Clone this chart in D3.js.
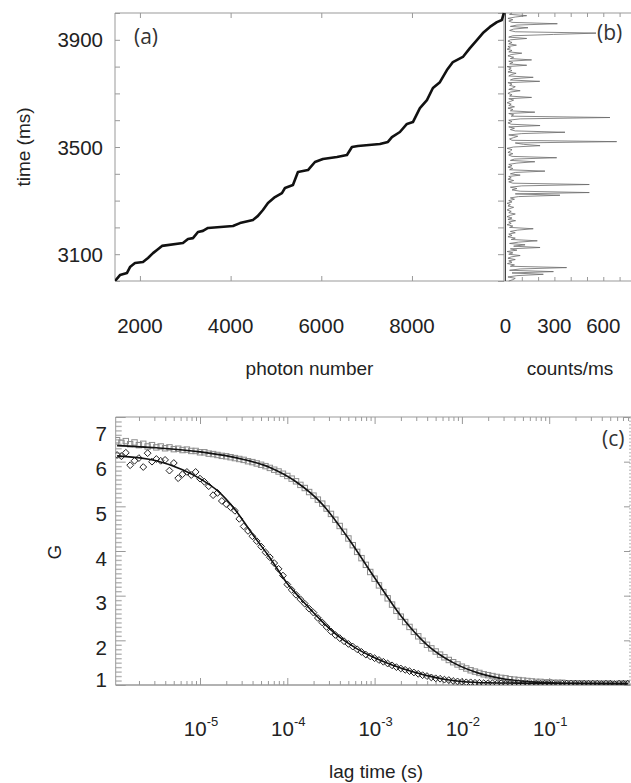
<!DOCTYPE html>
<html>
<head>
<meta charset="utf-8">
<title>photon trace and correlation</title>
<script src="https://d3js.org/d3.v7.min.js"></script>
<style>
  body { margin: 0; background: #fff; }
  svg text { font-family: "Liberation Sans", Arial, sans-serif; fill: #222; }
  svg text.tag { font-family: "Open Sans", sans-serif; fill: #333; }
</style>
</head>
<body>
<script>
var width = 631, height = 783

// (a) cumulative photon number against arrival time
var photonNum = [1450,1560,1715,1781,1891,2067,2178,2288,2376,2486,
  2949,3060,3170,3280,3390,3501,4052,4206,4493,4603,
  4713,4824,4978,5132,5199,5375,5485,5706,5860,6036,
  6345,6566,6676,6808,7293,7470,7558,7734,7889,8021,
  8175,8330,8462,8616,8771,8903,9123,9278,9432,9564,
  9719,9873,9983,10027]
var photonTime = [3000,3022,3030,3052,3067,3071,3086,3104,3116,3131,
  3142,3157,3160,3183,3187,3198,3205,3216,3228,3243,
  3265,3291,3313,3328,3347,3358,3407,3414,3444,3455,
  3463,3470,3500,3504,3511,3519,3537,3556,3586,3593,
  3645,3675,3720,3742,3787,3817,3836,3869,3899,3925,
  3948,3966,3974,4000]
var photonLabels = [2000,4000,6000,8000]
var timeLabels = [3100,3500,3900]

// (b) count rate, 5 ms bins starting at 3000 ms
var binStart = 3000
var binMs = 5
var counts = [20,45,60,15,70,232,40,294,25,90,
  375,30,55,12,40,20,60,15,35,90,
  20,45,10,70,30,212,50,120,25,80,
  195,35,60,15,40,20,60,30,75,170,
  25,45,10,35,20,62,15,40,10,30,
  60,20,35,10,25,50,15,30,10,40,
  20,55,30,80,334,60,514,90,40,70,
  30,100,514,45,20,50,15,35,20,90,
  30,60,242,25,45,15,40,20,70,180,
  30,55,314,40,20,45,15,30,40,10,
  50,212,110,60,682,40,25,50,75,20,
  100,365,60,30,55,20,212,35,15,40,
  20,90,641,35,50,20,180,30,45,15,
  55,20,35,10,30,50,20,160,25,40,
  15,30,90,20,45,60,25,40,15,210,
  30,50,170,20,35,65,15,40,20,35,
  10,130,25,45,20,160,30,50,15,35,
  100,20,40,10,30,15,67,20,40,15,
  30,130,20,45,294,563,60,25,50,138,
  30,70,318,40,20,45,15,60,130,25,
  40]
var countLabels = [0,300,600]

// (c) correlation curves, lag given as log10(seconds)
var lagExp = [-5.95,-5.90,-5.85,-5.80,-5.75,-5.70,-5.65,-5.60,-5.55,-5.50,
  -5.45,-5.40,-5.35,-5.30,-5.25,-5.20,-5.15,-5.10,-5.05,-5.00,
  -4.95,-4.90,-4.85,-4.80,-4.75,-4.70,-4.65,-4.60,-4.55,-4.50,
  -4.45,-4.40,-4.35,-4.30,-4.25,-4.20,-4.15,-4.10,-4.05,-4.00,
  -3.95,-3.90,-3.85,-3.80,-3.75,-3.70,-3.65,-3.60,-3.55,-3.50,
  -3.45,-3.40,-3.35,-3.30,-3.25,-3.20,-3.15,-3.10,-3.05,-3.00,
  -2.95,-2.90,-2.85,-2.80,-2.75,-2.70,-2.65,-2.60,-2.55,-2.50,
  -2.45,-2.40,-2.35,-2.30,-2.25,-2.20,-2.15,-2.10,-2.05,-2.00,
  -1.95,-1.90,-1.85,-1.80,-1.75,-1.70,-1.65,-1.60,-1.55,-1.50,
  -1.45,-1.40,-1.35,-1.30,-1.25,-1.20,-1.15,-1.10,-1.05,-1.00,
  -0.95,-0.90,-0.85,-0.80,-0.75,-0.70,-0.65,-0.60,-0.55,-0.50,
  -0.45,-0.40,-0.35,-0.30,-0.25,-0.20,-0.15,-0.10]
var gSquares = [6.48,6.42,6.46,6.39,6.43,6.37,6.40,6.34,6.37,6.32,
  6.34,6.30,6.32,6.28,6.29,6.26,6.27,6.24,6.24,6.21,
  6.21,6.18,6.17,6.15,6.13,6.12,6.10,6.08,6.06,6.04,
  6.01,5.99,5.96,5.93,5.90,5.86,5.82,5.78,5.73,5.68,
  5.62,5.56,5.48,5.41,5.32,5.24,5.15,5.06,4.95,4.83,
  4.70,4.56,4.43,4.28,4.13,3.98,3.84,3.69,3.53,3.38,
  3.23,3.08,2.94,2.80,2.66,2.53,2.41,2.30,2.19,2.09,
  1.99,1.90,1.82,1.75,1.68,1.62,1.56,1.51,1.46,1.41,
  1.37,1.33,1.30,1.27,1.24,1.22,1.20,1.18,1.16,1.15,
  1.13,1.12,1.11,1.10,1.09,1.08,1.07,1.07,1.06,1.06,
  1.05,1.05,1.05,1.04,1.04,1.04,1.04,1.03,1.03,1.03,
  1.03,1.03,1.03,1.03,1.02,1.03,1.03,1.03]
var gDiamonds = [6.15,6.12,6.20,5.92,6.02,6.08,5.88,6.19,6.00,6.06,
  6.02,6.04,5.80,5.97,5.63,5.72,5.77,5.70,5.77,5.62,
  5.55,5.45,5.25,5.30,5.12,5.05,4.98,4.90,4.72,4.55,
  4.45,4.33,4.22,4.10,3.97,3.86,3.73,3.60,3.45,3.25,
  3.13,3.02,2.92,2.82,2.71,2.62,2.50,2.40,2.30,2.20,
  2.12,2.05,1.98,1.92,1.86,1.80,1.74,1.68,1.64,1.60,
  1.56,1.52,1.48,1.44,1.40,1.37,1.34,1.31,1.28,1.25,
  1.22,1.20,1.17,1.15,1.14,1.12,1.11,1.09,1.08,1.07,
  1.06,1.06,1.05,1.05,1.04,1.04,1.04,1.03,1.04,1.03,
  1.03,1.03,1.04,1.03,1.03,1.02,1.03,1.03,1.03,1.03,
  1.03,1.02,1.03,1.03,1.03,1.03,1.02,1.03,1.03,1.03,
  1.03,1.02,1.03,1.03,1.02,1.03,1.03,1.03]
var fitSqExp = [-5.95,-5.5,-5.0,-4.5,-4.2,-3.9,-3.6,-3.3,-3.0,-2.7,-2.4,-2.1,-1.8,-1.5,-1.2,-0.8,-0.1]
var fitSq = [6.36,6.31,6.22,6.05,5.87,5.55,5.05,4.28,3.40,2.55,1.90,1.50,1.26,1.13,1.07,1.04,1.03]
var fitDiExp = [-5.95,-5.5,-5.2,-5.0,-4.8,-4.6,-4.4,-4.2,-4.0,-3.8,-3.6,-3.4,-3.2,-3.0,-2.8,-2.6,-2.4,-2.2,-2.0,-1.7,-1.2,-0.1]
var fitDi = [6.13,6.02,5.82,5.62,5.35,4.93,4.38,3.85,3.27,2.83,2.42,2.07,1.81,1.61,1.45,1.32,1.21,1.13,1.08,1.05,1.04,1.03]
var lagLabels = [-5,-4,-3,-2,-1]
var gLabels = [1,2,3,4,5,6,7]

var axisColor = "#999"

var svg = d3.select("body").append("svg").attr("width", width).attr("height", height)

function ticksOnly(g, axis) {
    g.call(axis)
    g.select(".domain").remove()
    g.selectAll("text").remove()
    g.selectAll("line").attr("stroke", axisColor).attr("stroke-width", 1)
}

// ---------- panel (a) ----------
var aL = 115, aR = 504, aT = 13, aB = 281
var xA = d3.scaleLinear().domain([1450, 10030]).range([aL, aR])
var yT = d3.scaleLinear().domain([3000, 4000]).range([aB, aT])

svg.append("clipPath").attr("id", "clipA").append("rect")
    .attr("x", aL).attr("y", aT - 2).attr("width", aR - aL + 2).attr("height", aB - aT + 2)

ticksOnly(svg.append("g").attr("transform", "translate(0," + aB + ")"),
    d3.axisBottom(xA).tickValues(photonLabels).tickSizeInner(-5).tickSizeOuter(0))
ticksOnly(svg.append("g").attr("transform", "translate(0," + aT + ")"),
    d3.axisTop(xA).tickValues(photonLabels).tickSizeInner(-5).tickSizeOuter(0))
ticksOnly(svg.append("g").attr("transform", "translate(" + aL + ",0)"),
    d3.axisLeft(yT).ticks(10).tickSizeInner(-5).tickSizeOuter(0))
ticksOnly(svg.append("g").attr("transform", "translate(" + aR + ",0)"),
    d3.axisRight(yT).ticks(10).tickSizeInner(-6).tickSizeOuter(0))

svg.append("line").attr("x1", aL).attr("x2", width).attr("y1", aT).attr("y2", aT).attr("stroke", axisColor)
svg.append("line").attr("x1", aL).attr("x2", width).attr("y1", aB).attr("y2", aB).attr("stroke", axisColor)
svg.append("line").attr("x1", aL).attr("x2", aL).attr("y1", aT).attr("y2", aB).attr("stroke", axisColor)
svg.append("line").attr("x1", aR).attr("x2", aR).attr("y1", aT).attr("y2", aB).attr("stroke", "#888")

var photonLine = d3.line()
    .x(function(d, i) { return xA(photonNum[i]) })
    .y(function(d, i) { return yT(photonTime[i]) })
svg.append("path").datum(photonNum)
    .attr("clip-path", "url(#clipA)")
    .attr("d", photonLine)
    .attr("fill", "none").attr("stroke", "#111").attr("stroke-width", 2.6)
    .attr("stroke-linejoin", "round")

svg.selectAll(".tlab").data(timeLabels).enter().append("text")
    .attr("class", "tlab")
    .attr("x", 103).attr("y", function(d) { return yT(d) + 7.5 })
    .attr("text-anchor", "end").attr("font-size", 20.5)
    .text(function(d) { return d })
svg.selectAll(".plab").data(photonLabels).enter().append("text")
    .attr("class", "plab")
    .attr("x", function(d) { return xA(d) }).attr("y", 333)
    .attr("text-anchor", "middle").attr("font-size", 20.5)
    .text(function(d) { return d })
svg.append("text").attr("transform", "translate(30,147) rotate(-90)")
    .attr("text-anchor", "middle").attr("font-size", 19).text("time (ms)")
svg.append("text").attr("x", (aL + aR) / 2).attr("y", 375)
    .attr("text-anchor", "middle").attr("font-size", 19).text("photon number")
svg.append("text").attr("class", "tag").attr("x", 134).attr("y", 44).attr("font-size", 21).text("(a)")

// ---------- panel (b) ----------
var bL = 505.5
var xB = d3.scaleLinear().domain([0, 770]).range([bL, 631])

ticksOnly(svg.append("g").attr("transform", "translate(0," + aT + ")"),
    d3.axisTop(xB).tickValues(d3.range(100, 800, 100)).tickSizeInner(-4).tickSizeOuter(0))
ticksOnly(svg.append("g").attr("transform", "translate(0," + aB + ")"),
    d3.axisBottom(xB).tickValues(d3.range(100, 800, 100)).tickSizeInner(-4).tickSizeOuter(0))

var countLine = d3.line()
    .x(function(d) { return xB(d) })
    .y(function(d, i) { return yT(binStart + i * binMs) })
svg.append("path").datum(counts)
    .attr("d", countLine)
    .attr("fill", "none").attr("stroke", "#6a6a6a").attr("stroke-width", 0.8)
svg.append("line").attr("x1", bL).attr("x2", bL).attr("y1", aT).attr("y2", aB)
    .attr("stroke", "#444").attr("stroke-width", 1)

svg.selectAll(".clab").data(countLabels).enter().append("text")
    .attr("class", "clab")
    .attr("x", function(d) { return xB(d) }).attr("y", 333)
    .attr("text-anchor", "middle").attr("font-size", 20.5)
    .text(function(d) { return d })
svg.append("text").attr("x", 570).attr("y", 375)
    .attr("text-anchor", "middle").attr("font-size", 19).text("counts/ms")
svg.append("rect").attr("x", 596).attr("y", 20).attr("width", 32).attr("height", 26).attr("fill", "#fff")
svg.append("text").attr("class", "tag").attr("x", 597).attr("y", 40).attr("font-size", 21).text("(b)")

// ---------- panel (c) ----------
var cL = 115.7, cR = 630, cT = 417, cB = 685
var xC = d3.scaleLog().domain([1e-5, 1e-1]).range([200, 549.2])
var xCp = xC.copy().domain([xC.invert(cL), xC.invert(cR)]).range([cL, cR])
var yG = d3.scaleLinear().domain([1, 7]).range([cB, cT])

svg.append("clipPath").attr("id", "clipC").append("rect")
    .attr("x", cL).attr("y", cT).attr("width", cR - cL).attr("height", cB - cT)

var logTicks = xCp.ticks()
var decades = logTicks.filter(function(v) { return Math.abs(Math.log10(v) - Math.round(Math.log10(v))) < 1e-6 })
var minorLog = logTicks.filter(function(v) { return decades.indexOf(v) < 0 })
ticksOnly(svg.append("g").attr("transform", "translate(0," + cB + ")"),
    d3.axisBottom(xCp).tickValues(minorLog).tickSizeInner(-4).tickSizeOuter(0))
ticksOnly(svg.append("g").attr("transform", "translate(0," + cB + ")"),
    d3.axisBottom(xCp).tickValues(decades).tickSizeInner(-7).tickSizeOuter(0))
ticksOnly(svg.append("g").attr("transform", "translate(0," + cT + ")"),
    d3.axisTop(xCp).tickValues(minorLog).tickSizeInner(-4).tickSizeOuter(0))
ticksOnly(svg.append("g").attr("transform", "translate(0," + cT + ")"),
    d3.axisTop(xCp).tickValues(decades).tickSizeInner(-7).tickSizeOuter(0))

var gMinor = yG.ticks(60).filter(function(v) { return Math.abs(v - Math.round(v)) > 1e-6 })
var gMinorG = svg.append("g").attr("transform", "translate(" + cL + ",0)")
ticksOnly(gMinorG, d3.axisLeft(yG).tickValues(gMinor).tickSizeInner(-6).tickSizeOuter(0))
gMinorG.selectAll("line").attr("stroke", "#b4b4b4").attr("stroke-width", 1.4)
ticksOnly(svg.append("g").attr("transform", "translate(" + cL + ",0)"),
    d3.axisLeft(yG).tickValues(gLabels).tickSizeInner(-10).tickSizeOuter(0))
ticksOnly(svg.append("g").attr("transform", "translate(" + cR + ",0)"),
    d3.axisRight(yG).tickValues(gLabels).tickSizeInner(-6).tickSizeOuter(0))

svg.append("line").attr("x1", cL).attr("x2", width).attr("y1", cT).attr("y2", cT).attr("stroke", axisColor)
svg.append("line").attr("x1", cL).attr("x2", width).attr("y1", cB).attr("y2", cB).attr("stroke", axisColor).attr("stroke-width", 1.4)
svg.append("line").attr("x1", cL).attr("x2", cL).attr("y1", cT).attr("y2", cB).attr("stroke", axisColor)
svg.append("line").attr("x1", cR).attr("x2", cR).attr("y1", cT).attr("y2", cB)
    .attr("stroke", axisColor).attr("stroke-dasharray", "1.5,2")

var plotC = svg.append("g").attr("clip-path", "url(#clipC)")

plotC.selectAll(".sq").data(gSquares).enter().append("rect")
    .attr("class", "sq")
    .attr("x", function(d, i) { return xC(Math.pow(10, lagExp[i])) - 2.7 })
    .attr("y", function(d) { return yG(d) - 2.7 })
    .attr("width", 5.4).attr("height", 5.4)
    .attr("fill", "none").attr("stroke", "#8c8c8c").attr("stroke-width", 1)

var fitLine = function(exps) {
    return d3.line().curve(d3.curveMonotoneX)
        .x(function(d, i) { return xC(Math.pow(10, exps[i])) })
        .y(function(d) { return yG(d) })
}
plotC.append("path").datum(fitSq).attr("d", fitLine(fitSqExp))
    .attr("fill", "none").attr("stroke", "#111").attr("stroke-width", 1.6)

plotC.selectAll(".di").data(gDiamonds).enter().append("path")
    .attr("class", "di")
    .attr("transform", function(d, i) { return "translate(" + xC(Math.pow(10, lagExp[i])) + "," + yG(d) + ")" })
    .attr("d", "M0,-3.4L3.4,0L0,3.4L-3.4,0Z")
    .attr("fill", "none").attr("stroke", "#222").attr("stroke-width", 1)
plotC.append("path").datum(fitDi).attr("d", fitLine(fitDiExp))
    .attr("fill", "none").attr("stroke", "#111").attr("stroke-width", 1.6)

svg.selectAll(".glab").data(gLabels).enter().append("text")
    .attr("class", "glab")
    .attr("x", 107)
    .attr("y", function(d) { return Math.max(cT + 16, Math.min(cB - 6, yG(d) + 7)) + 7.5 })
    .attr("text-anchor", "end").attr("font-size", 20.5)
    .text(function(d) { return d })

var lagText = svg.selectAll(".llab").data(lagLabels).enter().append("text")
    .attr("class", "llab")
    .attr("x", function(d) { return xC(Math.pow(10, d)) + 1 }).attr("y", 736)
    .attr("text-anchor", "middle").attr("font-size", 20.5)
lagText.append("tspan").text("10")
lagText.append("tspan").attr("dy", -10).attr("font-size", 13).text(function(d) { return d })

svg.append("text").attr("x", 376).attr("y", 778)
    .attr("text-anchor", "middle").attr("font-size", 19).text("lag time (s)")
svg.append("text").attr("transform", "translate(61,552) rotate(-90)")
    .attr("text-anchor", "middle").attr("font-size", 19).text("G")
svg.append("text").attr("class", "tag").attr("x", 602).attr("y", 446).attr("font-size", 21).text("(c)")
</script>
</body>
</html>
